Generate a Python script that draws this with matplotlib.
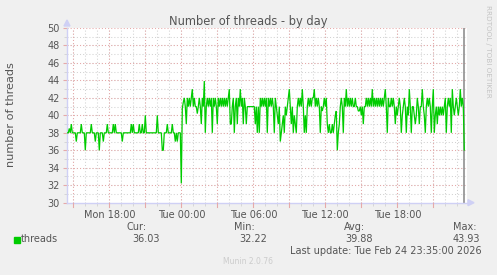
import matplotlib
matplotlib.use("Agg")
import matplotlib.pyplot as plt
import numpy as np
from matplotlib.ticker import MultipleLocator, FixedLocator

# ---- data (5-minute samples, hours relative to Tue 00:00) ----
start_hour = -9.5          # Mon 14:30
step_hours = 5 / 60.0

threads_part1 = [
    38, 38, 38.5, 38, 39, 38, 38, 38, 38, 37, 38, 38, 38, 38, 39, 38, 38, 38, 36, 38,
    38, 38, 38, 38, 39, 38, 38, 38, 37, 38, 38, 38, 36, 38, 38, 38, 37, 38, 38, 38,
    39, 38, 38, 38, 38, 38, 39, 38, 39, 38, 38, 38, 38, 38, 38, 37, 38, 38, 38, 38,
    38, 38, 38, 38, 39, 38, 39, 38, 38, 38, 38, 38, 39, 38, 38, 39, 38, 38, 40, 38,
    38, 38, 38, 38, 38, 38, 38, 38, 38, 38, 40, 38, 38, 38, 38, 36, 36, 38, 38, 38,
    39, 38, 38, 38, 38, 39, 38, 38, 37, 38, 37, 38, 38, 38, 32.22,
]
threads_part2 = [
    40.8, 41.5, 42, 41, 39, 42, 41, 42, 41, 42, 43, 41, 42, 41, 41, 40.2, 41, 42, 41, 39,
    42, 41, 43.93, 38, 41, 42, 41, 42, 41, 42, 38, 42, 41, 42, 41, 39, 42, 41, 42, 41,
    42, 41, 42, 41, 42, 41, 42, 43, 39, 39, 41, 42, 38, 41, 42, 39, 42, 41, 43, 41,
    42, 39, 42, 41, 39, 41, 41, 41, 41, 41, 41, 41, 41, 39, 41, 38, 41, 38, 42, 41,
]
threads_part3 = [
    42, 41, 42, 41, 42, 38, 42, 41, 42, 41, 42, 41, 38, 42, 41, 40, 39, 41, 37, 38,
    39, 40, 38, 41, 40, 41, 42, 43, 41, 39, 41, 38, 40, 39, 38, 41, 42, 41, 42, 41,
    43, 41, 38, 40, 38, 41, 42, 41, 42, 41, 42, 42, 43, 41, 42, 41, 42, 41, 38, 41,
    40.5, 41, 42, 41, 42, 39, 38, 39, 38, 38, 39, 38, 39, 40, 40.5, 36, 38, 39, 41, 42,
    41, 38, 42, 41, 43, 41, 42, 41, 42, 41, 42, 41, 41, 42, 41, 41, 40.5, 40.5, 41, 40,
    41, 39, 41, 41, 42, 41, 42, 41, 42, 41, 43, 41, 42, 41, 42, 41, 42, 41, 42, 41,
    42, 41, 42, 43, 41, 38, 42, 41, 41, 42, 41, 42, 41, 39, 41, 40, 41, 42, 41, 38,
    40, 41, 42, 41, 38, 41, 40, 43, 41, 38, 41, 41, 40, 39, 40, 42, 41, 39, 41, 41,
    43, 41, 40, 38, 41, 42, 41, 42, 41, 38, 41, 43, 38, 40, 41, 39, 41, 40, 41, 40,
    41, 40, 41, 42, 38, 41, 42, 41, 42, 38, 43, 41, 40, 41, 42, 41, 40, 41, 43, 41,
    42, 41, 36.03,
]
threads = threads_part1 + threads_part2 + threads_part3

x_tick_hours = [-6, 0, 6, 12, 18]
x_tick_labels = ["Mon 18:00", "Tue 00:00", "Tue 06:00", "Tue 12:00", "Tue 18:00"]
y_ticks = [30, 32, 34, 36, 38, 40, 42, 44, 46, 48, 50]

legend_name = "threads"
stat_names = ["Cur:", "Min:", "Avg:", "Max:"]
stat_values = ["36.03", "32.22", "39.88", "43.93"]
title = "Number of threads - by day"
ylabel = "number of threads"
last_update = "Last update: Tue Feb 24 23:35:00 2026"

# ---- figure ----
W, H = 497, 275
fig = plt.figure(figsize=(W / 100, H / 100), dpi=100)
fig.patch.set_facecolor("#f0f0f0")

def fx(px):
    return px / W

def fy(py):
    return 1 - py / H

left_px, right_px, top_px, bot_px = 67, 467, 28, 202.7
ax = fig.add_axes([fx(left_px), fy(bot_px), (right_px - left_px) / W, (bot_px - top_px) / H])
ax.set_facecolor("white")

t = start_hour + np.arange(len(threads)) * step_hours
xmin = start_hour - 0.025
xmax = xmin + 400 * step_hours
ax.set_xlim(xmin, xmax)
ax.set_ylim(30, 50)

# grids
minor_col = "#d2d2d2"
major_col = "#e6a9a9"
ax.xaxis.set_minor_locator(MultipleLocator(1))
ax.xaxis.set_major_locator(FixedLocator(x_tick_hours))
ax.yaxis.set_minor_locator(MultipleLocator(1))
ax.yaxis.set_major_locator(FixedLocator(y_ticks))
dot = (0, (1, 2))
for h in np.arange(-9, 24, 1):
    ax.axvline(h, color=minor_col, lw=0.75, ls=dot, zorder=1)
for v in range(31, 50, 1):
    ax.axhline(v, color=minor_col, lw=0.75, ls=dot, zorder=1)
for h in np.arange(-9, 24, 3):
    ax.axvline(h, color=major_col, lw=0.75, ls=dot, zorder=1.5)
for v in y_ticks[1:]:
    ax.axhline(v, color=major_col, lw=0.75, ls=dot, zorder=1.5)

ax.plot(t, threads, color="#00cc00", lw=0.9, zorder=3, solid_joinstyle="miter")
ax.axvline(t[-1], color="#909090", lw=1.2, zorder=2)

ax.set_xticks(x_tick_hours)
ax.set_xticklabels(x_tick_labels)
ax.set_yticks(y_ticks)
ax.set_yticklabels([str(v) for v in y_ticks])
ax.tick_params(axis="both", which="major", length=3, width=0.8, color="#e6a9a9",
               labelsize=7, labelcolor="#555555", pad=2)
ax.tick_params(axis="both", which="minor", length=2, width=0.6, color="#d2d2d2")
ax.tick_params(axis="x", which="major", length=0, pad=5)
for h in np.arange(-9, 24, 3):
    ax.plot([h, h], [30, 29.55], color=major_col, lw=0.8, clip_on=False, zorder=4)

for s in ["top", "right"]:
    ax.spines[s].set_visible(False)
for s in ["left", "bottom"]:
    ax.spines[s].set_color("#cfd0f5")
    ax.spines[s].set_linewidth(1.0)

# arrows
fig.patches.append(plt.Polygon([[fx(64), fy(26)], [fx(70), fy(26)], [fx(67), fy(20)]],
                               closed=True, transform=fig.transFigure, color="#cfd0f5"))
fig.patches.append(plt.Polygon([[fx(468), fy(199.7)], [fx(468), fy(205.7)], [fx(474), fy(202.7)]],
                               closed=True, transform=fig.transFigure, color="#cfd0f5"))

txt = "#555555"
fig.text(fx(248), fy(21), title, ha="center", va="center", fontsize=8.3, color=txt)
fig.text(fx(11), fy(115), ylabel, ha="center", va="center", rotation=90, fontsize=8.1, color=txt)
fig.text(fx(488), fy(5), "RRDTOOL / TOBI OETIKER", ha="center", va="top", rotation=-90,
         fontsize=5.2, color="#c4c4c4")

# legend
fig.patches.append(plt.Rectangle((fx(14), fy(243)), 5.5 / W, 6 / H, transform=fig.transFigure,
                                 color="#00cc00"))
fig.text(fx(20.5), fy(239.5), legend_name, ha="left", va="center", fontsize=7, color=txt)
name_right = [147, 255, 365, 477]
val_right = [160, 267, 373, 480]
for n, v, nr, vr in zip(stat_names, stat_values, name_right, val_right):
    fig.text(fx(nr), fy(227.5), n, ha="right", va="center", fontsize=7, color=txt)
    fig.text(fx(vr), fy(239.5), v, ha="right", va="center", fontsize=7, color=txt)
fig.text(fx(482), fy(250.5), last_update, ha="right", va="center", fontsize=7, color=txt)
fig.text(fx(248), fy(262), "Munin 2.0.76", ha="center", va="center", fontsize=5.5, color="#cccccc")

fig.savefig("out.png", dpi=100, facecolor=fig.get_facecolor())
